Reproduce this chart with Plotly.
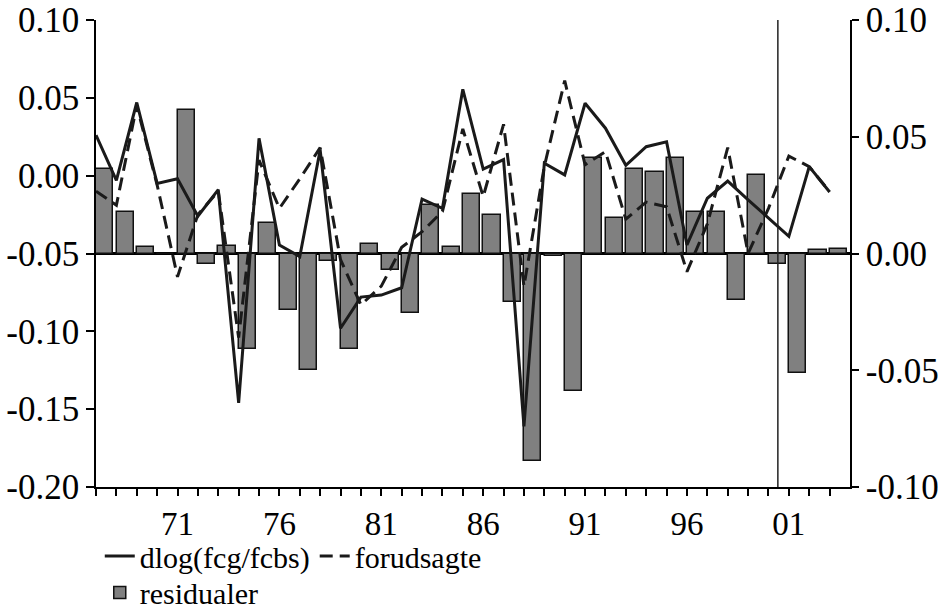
import plotly.graph_objects as go

years = list(range(1967, 2004))

actual = [0.026, -0.003, 0.047, -0.005, -0.002, -0.026, -0.009, -0.146, 0.024, -0.0445,
          -0.052, 0.0165, -0.098, -0.078, -0.0767, -0.072, -0.015, -0.021, 0.0555, 0.0042,
          0.0103, -0.161, 0.008, 0.0005, 0.0465, 0.0305, 0.0067, 0.0186, 0.0217, -0.0445,
          -0.0145, -0.0035, -0.0155, -0.027, -0.039, 0.0058, -0.0105]

forecast = [-0.010, -0.019, 0.045, -0.006, -0.065, -0.025, -0.010, -0.104, 0.010, -0.021,
            -0.002, 0.018, -0.054, -0.083, -0.071, -0.046, -0.036, -0.023, 0.030, -0.0135,
            0.033, -0.071, 0.006, 0.061, 0.007, 0.0154, -0.028, -0.017, -0.020, -0.0617,
            -0.031, 0.018, -0.050, -0.021, 0.0126, 0.0058, -0.0103]

residuals = [0.0364, 0.0176, 0.0028, 0.0, 0.0614, -0.0047, 0.0033, -0.0407, 0.0131, -0.0243,
             -0.050, -0.0032, -0.0407, 0.0041, -0.0069, -0.0253, 0.0207, 0.0027, 0.0254, 0.0167,
             -0.0207, -0.089, -0.001, -0.0589, 0.0408, 0.0153, 0.0364, 0.035, 0.0408, 0.0176,
             0.0176, -0.020, 0.0336, -0.0047, -0.051, 0.0014, 0.0021]

label_years = [1971, 1976, 1981, 1986, 1991, 1996, 2001]
left_ticks = [-0.20, -0.15, -0.10, -0.05, 0.0, 0.05, 0.10]
right_ticks = [-0.10, -0.05, 0.0, 0.05, 0.10]
split_year = 2000.46

FONT = "Liberation Serif"
FS = 35
XFS = 33
LFS = 30


def fmt(v):
    return f"{v:.2f}".replace("\u2212", "-")


fig = go.Figure()

fig.add_trace(go.Bar(
    x=[y + 0.43 for y in years], y=residuals, width=0.84,
    marker=dict(color="#808080", line=dict(color="#111111", width=1.5)),
    name="residualer", yaxis="y", legend="legend2",
))
fig.add_trace(go.Scatter(
    x=years, y=actual, mode="lines", name="dlog(fcg/fcbs)",
    line=dict(color="#1a1a1a", width=3), yaxis="y2", legend="legend",
))
fig.add_trace(go.Scatter(
    x=years, y=forecast, mode="lines", name="forudsagte",
    line=dict(color="#1a1a1a", width=3, dash="13px,7px"), yaxis="y2", legend="legend",
))

fig.add_shape(type="line", xref="x", yref="paper", x0=split_year, x1=split_year, y0=0, y1=1,
              line=dict(color="#222222", width=1.5))

fig.update_layout(
    width=938, height=612,
    margin=dict(l=96, r=88, t=20, b=125, autoexpand=False),
    paper_bgcolor="white", plot_bgcolor="white",
    font=dict(family=FONT, size=FS, color="black"),
    bargap=0,
    xaxis=dict(
        range=[1967, 2004], tickmode="array", tickvals=years, automargin=False,
        ticktext=[f"{y % 100:02d}" if y in label_years else "" for y in years],
        showgrid=False, zeroline=False, showline=True, linecolor="black", linewidth=1.5,
        ticks="outside", ticklen=7, tickwidth=1.5, tickcolor="black",
        tickfont=dict(family=FONT, size=XFS),
    ),
    yaxis=dict(
        side="right", range=[-0.10, 0.10], tickmode="array", tickvals=right_ticks,
        ticktext=[fmt(v) for v in right_ticks], automargin=False,
        showgrid=False, showline=True, linecolor="black", linewidth=1.5,
        ticks="outside", ticklen=7, tickwidth=1.5, tickcolor="black",
        zeroline=True, zerolinecolor="black", zerolinewidth=2.5,
        tickfont=dict(family=FONT, size=FS),
    ),
    yaxis2=dict(
        side="left", overlaying="y", range=[-0.20, 0.10], tickmode="array",
        tickvals=left_ticks, ticktext=[fmt(v) for v in left_ticks], automargin=False,
        showgrid=False, zeroline=False, showline=True, linecolor="black",
        linewidth=1.5, ticks="outside", ticklen=8, tickwidth=1.5, tickcolor="black",
        tickfont=dict(family=FONT, size=FS),
    ),
    legend=dict(
        orientation="h", x=0.005, xanchor="left", y=-0.092, yanchor="top",
        font=dict(family=FONT, size=LFS), bgcolor="rgba(0,0,0,0)",
        tracegroupgap=0,
    ),
    legend2=dict(
        orientation="h", x=0.005, xanchor="left", y=-0.17, yanchor="top",
        font=dict(family=FONT, size=LFS), bgcolor="rgba(0,0,0,0)",
    ),
    showlegend=True,
)

fig.write_html("out.html")
